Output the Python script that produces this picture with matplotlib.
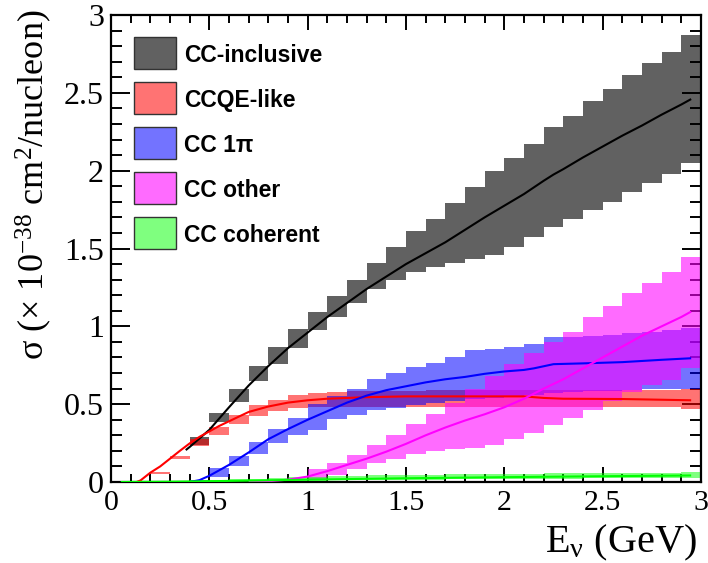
import numpy as np
import matplotlib
matplotlib.use("Agg")
import matplotlib.pyplot as plt
from matplotlib.patches import Rectangle
from matplotlib.ticker import MultipleLocator

# ---------------- data ----------------
bin_width = 0.1

# CC-inclusive (black)
incl_band_start = 0.4
incl_band_lo = [0.235, 0.387, 0.516, 0.648, 0.755, 0.86, 0.976, 1.06, 1.15, 1.24, 1.30, 1.35, 1.38,
                1.41, 1.43, 1.458, 1.511, 1.571, 1.636, 1.687, 1.747, 1.80, 1.865, 1.918, 1.978, 2.047]
incl_band_hi = [0.29, 0.441, 0.598, 0.745, 0.865, 0.98, 1.092, 1.196, 1.30, 1.41, 1.511, 1.615, 1.69,
                1.79, 1.897, 2.0, 2.082, 2.171, 2.282, 2.35, 2.449, 2.524, 2.614, 2.689, 2.764, 2.871]
incl_x = [0.38, 0.4, 0.5, 0.6, 0.7, 0.8, 0.9, 1.0, 1.1, 1.2, 1.3, 1.4, 1.5, 1.6, 1.7, 1.8, 1.9, 2.0,
          2.1, 2.2, 2.25, 2.3, 2.4, 2.5, 2.6, 2.7, 2.8, 2.9, 2.95]
incl_y = [0.205, 0.225, 0.335, 0.48, 0.62, 0.745, 0.86, 0.96, 1.06, 1.15, 1.24, 1.32, 1.40, 1.47, 1.54,
          1.62, 1.70, 1.775, 1.85, 1.935, 1.975, 2.01, 2.085, 2.155, 2.225, 2.29, 2.36, 2.425, 2.46]

# CCQE-like (red)
qe_band_start = 0.2
qe_band_lo = [0.053, 0.15, 0.23, 0.302, 0.37, 0.427, 0.457, 0.478, 0.484, 0.484, 0.484, 0.484, 0.484,
              0.484, 0.484, 0.484, 0.484, 0.484, 0.483, 0.483, 0.483, 0.482, 0.482, 0.482, 0.482,
              0.482, 0.482, 0.468]
qe_band_hi = [0.066, 0.166, 0.278, 0.353, 0.43, 0.494, 0.527, 0.56, 0.574, 0.58, 0.583, 0.585, 0.586,
              0.587, 0.588, 0.589, 0.59, 0.59, 0.59, 0.59, 0.59, 0.59, 0.59, 0.59, 0.59, 0.59, 0.59,
              0.60]
qe_x = [0.13, 0.15, 0.2, 0.25, 0.3, 0.35, 0.4, 0.45, 0.5, 0.55, 0.6, 0.7, 0.8, 0.9, 1.0, 1.1, 1.2,
        1.3, 1.5, 1.8, 2.1, 2.2, 2.3, 2.6, 2.95]
qe_y = [0.0, 0.01, 0.06, 0.10, 0.15, 0.2, 0.248, 0.29, 0.325, 0.36, 0.39, 0.45, 0.485, 0.51, 0.525,
        0.535, 0.54, 0.545, 0.55, 0.55, 0.55, 0.54, 0.535, 0.533, 0.525]

# CC 1pi (blue)
pi_band_start = 0.4
pi_band_lo = [0.0, 0.03, 0.105, 0.18, 0.25, 0.30, 0.334, 0.405, 0.43, 0.462, 0.473, 0.494, 0.51, 0.52,
              0.53, 0.54, 0.55, 0.56, 0.57, 0.58, 0.585, 0.585, 0.59, 0.595, 0.60, 0.60]
pi_band_hi = [0.015, 0.088, 0.168, 0.259, 0.34, 0.409, 0.50, 0.55, 0.60, 0.66, 0.70, 0.74, 0.765, 0.80,
              0.85, 0.855, 0.87, 0.885, 0.93, 0.93, 0.935, 0.945, 0.955, 0.965, 0.975, 0.99]
pi_x = [0.4, 0.45, 0.5, 0.6, 0.7, 0.8, 0.9, 1.0, 1.1, 1.2, 1.3, 1.4, 1.5, 1.6, 1.7, 1.8, 1.9, 2.0,
        2.1, 2.15, 2.25, 2.4, 2.6, 2.8, 2.95]
pi_y = [0.0, 0.012, 0.04, 0.11, 0.19, 0.275, 0.34, 0.40, 0.455, 0.51, 0.555, 0.59, 0.615, 0.64, 0.66,
        0.675, 0.695, 0.71, 0.72, 0.73, 0.757, 0.762, 0.77, 0.785, 0.795]

# CC other (magenta)
oth_band_start = 1.0
oth_band_lo = [0.015, 0.045, 0.085, 0.12, 0.15, 0.18, 0.20, 0.21, 0.22, 0.238, 0.274, 0.317, 0.366,
               0.409, 0.462, 0.52, 0.58, 0.62, 0.655, 0.73]
oth_band_hi = [0.085, 0.12, 0.175, 0.24, 0.30, 0.37, 0.44, 0.51, 0.595, 0.68, 0.76, 0.83, 0.90, 0.965,
               1.062, 1.13, 1.212, 1.276, 1.351, 1.443]
oth_x = [0.7, 0.8, 0.9, 1.0, 1.1, 1.2, 1.3, 1.4, 1.5, 1.6, 1.7, 1.8, 1.9, 2.0, 2.1, 2.2, 2.3, 2.4,
         2.5, 2.6, 2.7, 2.8, 2.9, 2.95]
oth_y = [0.0, 0.005, 0.015, 0.035, 0.07, 0.11, 0.15, 0.195, 0.245, 0.30, 0.35, 0.395, 0.435, 0.48,
         0.535, 0.60, 0.66, 0.73, 0.80, 0.87, 0.94, 1.0, 1.06, 1.095]

# CC coherent (green)
coh_band_start = 0.3
coh_band_lo = [0.0, 0.0, 0.0, 0.0, 0.002, 0.004, 0.006, 0.008, 0.010, 0.012, 0.013, 0.014, 0.015,
               0.016, 0.017, 0.018, 0.019, 0.020, 0.021, 0.022, 0.022, 0.023, 0.023, 0.024, 0.024,
               0.025, 0.025]
coh_band_hi = [0.006, 0.01, 0.014, 0.018, 0.022, 0.026, 0.03, 0.034, 0.037, 0.04, 0.042, 0.044, 0.046,
               0.048, 0.05, 0.051, 0.052, 0.053, 0.054, 0.055, 0.056, 0.057, 0.058, 0.059, 0.06,
               0.061, 0.062]
coh_x = [0.05, 0.3, 0.5, 1.0, 1.5, 2.0, 2.5, 2.95]
coh_y = [0.0, 0.002, 0.005, 0.015, 0.024, 0.031, 0.037, 0.042]

labels = ["CC-inclusive", "CCQE-like", "CC 1\u03c0", "CC other", "CC coherent"]
colors = ["#000000", "#ff0000", "#0000ff", "#ff00ff", "#00ff00"]
band_alpha = [0.62, 0.55, 0.55, 0.58, 0.5]

x_ticks = [0, 0.5, 1, 1.5, 2, 2.5, 3]
y_ticks = [0, 0.5, 1, 1.5, 2, 2.5, 3]

# ---------------- figure ----------------
W, H = 708, 563
fig = plt.figure(figsize=(W / 100, H / 100), dpi=100)
L, R, T, B = 111, 701, 15, 482
ax = fig.add_axes([L / W, 1 - B / H, (R - L) / W, (B - T) / H])

serif = ["Liberation Serif", "DejaVu Serif"]
sansb = ["Liberation Sans", "DejaVu Sans"]
plt.rcParams["mathtext.fontset"] = "custom"
plt.rcParams["mathtext.rm"] = "Liberation Serif"
plt.rcParams["mathtext.it"] = "Liberation Serif:italic"

bands = [
    (incl_band_start, incl_band_lo, incl_band_hi),
    (qe_band_start, qe_band_lo, qe_band_hi),
    (pi_band_start, pi_band_lo, pi_band_hi),
    (oth_band_start, oth_band_lo, oth_band_hi),
    (coh_band_start, coh_band_lo, coh_band_hi),
]
curves = [(incl_x, incl_y), (qe_x, qe_y), (pi_x, pi_y), (oth_x, oth_y), (coh_x, coh_y)]

for (start, lo, hi), c, a in zip(bands, colors, band_alpha):
    lo = np.array(lo)
    hi = np.array(hi)
    left = start + bin_width * np.arange(len(lo))
    ax.bar(left, hi - lo, bottom=lo, width=bin_width, align="edge",
           color=c, alpha=a, linewidth=0, zorder=2)

for (xs, ys), c in zip(curves, colors):
    ax.plot(xs, ys, color=c, lw=1.5, zorder=3, solid_capstyle="butt")

ax.set_xlim(0, 3)
ax.set_ylim(0, 3)
ax.set_xticks(x_ticks)
ax.set_yticks(y_ticks)
ax.set_xticklabels([f"{v:g}" for v in x_ticks], fontfamily=serif, fontsize=21.5)
ax.set_yticklabels([f"{v:g}" for v in y_ticks], fontfamily=serif, fontsize=23)
ax.xaxis.set_minor_locator(MultipleLocator(0.1))
ax.yaxis.set_minor_locator(MultipleLocator(0.1))
ax.tick_params(which="both", direction="in", top=True, right=True, width=1.4, colors="black")
ax.tick_params(axis="x", which="major", length=11, pad=6)
ax.tick_params(axis="x", which="minor", length=6)
ax.tick_params(axis="y", which="major", length=14, pad=5)
ax.tick_params(axis="y", which="minor", length=8)
for s in ax.spines.values():
    s.set_linewidth(1.6)

fig.text(697 / W, 1 - 543 / H, "E$_{\\mathregular{\u03bd}}$ (GeV)", fontfamily=serif,
         fontsize=29, ha="right", va="center")
fig.text(34 / W, 1 - 10 / H,
         "\u03c3 (\u00d7 10$^{\\mathregular{-38}}$ cm$^{\\mathregular{2}}$/nucleon)",
         fontfamily=serif, fontsize=26, rotation=90, ha="center", va="top")

# legend (ROOT style: boxes with thin border, bold sans labels)
box_left, box_w, box_h = 134, 42, 32
row_tops = [37, 82, 127, 172, 217]
for lab, c, a, top in zip(labels, colors, band_alpha, row_tops):
    x0 = (box_left - L) / (R - L)
    y0 = (B - (top + box_h)) / (B - T)
    ax.add_patch(Rectangle((x0, y0), box_w / (R - L), box_h / (B - T), transform=ax.transAxes,
                           facecolor=c, alpha=a, edgecolor="none", zorder=4, clip_on=False))
    ax.add_patch(Rectangle((x0, y0), box_w / (R - L), box_h / (B - T), transform=ax.transAxes,
                           facecolor="none", edgecolor="#333333", lw=1.0, zorder=5, clip_on=False))
    ax.text((184 - L) / (R - L), (B - (top + box_h / 2)) / (B - T), lab, transform=ax.transAxes,
            fontfamily=sansb, fontweight="bold", fontsize=16.5, ha="left", va="center_baseline",
            zorder=5)

fig.savefig("out.png", dpi=100)
